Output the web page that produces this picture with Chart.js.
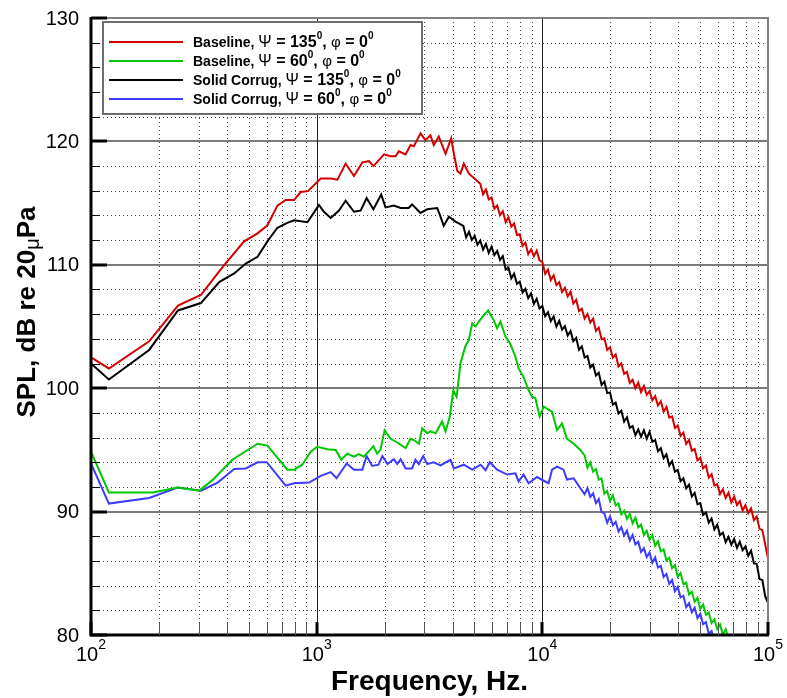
<!DOCTYPE html>
<html>
<head>
<meta charset="utf-8">
<script src="https://cdn.jsdelivr.net/npm/chart.js@4.4.0/dist/chart.umd.min.js"></script>
<style>
    html, body { margin: 0; padding: 0; background: #fff; }
    canvas { display: block; }
</style>
</head>
<body>
<canvas id="spl-chart" width="787" height="698"></canvas>
<script>
// Legend text
const seriesNames = ['Baseline', 'Baseline', 'Solid Corrug', 'Solid Corrug'];
const psiAngles = [135, 60, 135, 60];
const phiAngles = [0, 0, 0, 0];
const seriesColors = ['#d40000', '#00c800', '#000000', '#3c3cff'];

// Axis ticks
const yTicks = [80, 90, 100, 110, 120, 130];
const xTickExponents = [2, 3, 4, 5];

// Narrow-band frequency grid used for the noisy high frequency part (Hz)
const hfFreq = [4467, 4597, 4732, 4870, 5012, 5158, 5309, 5464, 5623, 5788, 5957, 6131, 6310, 6494, 6683, 6879, 7079, 7286, 7499, 7718,
    7943, 8175, 8414, 8660, 8913, 9173, 9441, 9716, 10000, 10292, 10593, 10902, 11220, 11548, 11885, 12232, 12589, 12957, 13335, 13725,
    14125, 14537, 14962, 15399, 15849, 16312, 16788, 17278, 17783, 18302, 18836, 19387, 19953, 20535, 21135, 21752, 22387, 23041, 23714, 24406,
    25119, 25852, 26607, 27384, 28184, 29007, 29854, 30726, 31623, 32546, 33497, 34473, 35481, 36517, 37584, 38681, 39811, 40973, 42170, 43401,
    44668, 45973, 47315, 48697, 50119, 51582, 53088, 54639, 56234, 57876, 59566, 61306, 63096, 64938, 66834, 68786, 70795, 72862, 74989, 77179,
    79433, 81752, 84140, 86596, 89125, 91728, 94406, 97163, 100000];

// Baseline, psi = 135
const redFreq = [100, 120, 181, 243, 307, 364, 390, 477, 547, 605, 670, 729, 794, 850, 915, 1042, 1154, 1236, 1344, 1463,
    1594, 1706, 1784, 1988, 2125, 2238, 2313, 2477, 2606, 2695, 2884, 3034, 3192, 3303, 3477, 3725, 3945, 4055, 4200, 4337,
    4488, 4722];
const redSpl = [102.5, 101.6, 103.8, 106.7, 107.55, 109.3, 110.0, 111.9, 112.55, 113.2, 114.8, 115.25, 115.25, 115.9, 115.97, 117.0, 117.0, 116.9, 118.2, 117.2,
    118.3, 118.4, 118.0, 118.95, 118.8, 118.8, 119.2, 118.95, 119.7, 119.6, 120.65, 120.1, 120.5, 119.7, 120.4, 119.0, 120.25, 119.0, 117.6, 117.4,
    118.2, 117.4];
const redHfSpl = [116.57, 115.71, 116.1, 115.3, 115.44, 114.55, 114.8, 114.02, 114.33, 113.45, 113.85, 113.1, 113.35, 112.42, 112.48, 111.53, 111.8, 110.86, 111.25, 110.7,
    111.15, 110.36, 110.23, 109.27, 109.61, 108.76, 109.15, 108.35, 108.59, 107.79, 108.14, 107.44, 107.82, 106.86, 107.16, 106.26, 106.44, 105.65, 106.01, 105.32,
    105.64, 104.65, 104.91, 103.97, 104.04, 103.1, 103.31, 102.47, 102.74, 101.76, 102.01, 101.16, 101.32, 100.43, 100.69, 99.99, 100.44, 99.68, 100.18, 99.47,
    99.77, 99.02, 99.36, 98.6, 98.95, 98.1, 98.49, 97.61, 97.72, 96.78, 96.98, 96.14, 96.4, 95.48, 95.81, 94.94, 95.07, 94.15, 94.37, 93.5,
    93.73, 92.75, 93.03, 92.11, 92.22, 91.43, 91.8, 91.11, 91.53, 90.74, 91.22, 90.53, 90.84, 90.1, 90.52, 89.88, 90.26, 89.3, 89.6, 88.6,
    88.5, 87.34, 86.2];

// Baseline, psi = 60
const greenFreq = [100, 120, 188, 242, 302, 345, 423, 547, 605, 741, 794, 863, 940, 1006, 1115, 1214, 1286, 1367, 1463, 1538,
    1618, 1784, 1853, 1918, 2000, 2125, 2276, 2477, 2606, 2695, 2836, 2935, 3090, 3192, 3365, 3597, 3725, 3890, 4030, 4170,
    4337, 4560, 4722, 4890, 5060, 5230, 5495, 5750, 6095, 6305, 6520, 6860, 7210, 7600, 7850, 8260, 8690, 9000, 9310, 9730,
    10140, 11040, 11620, 12220, 12860, 13770, 14730];
const greenSpl = [94.85, 91.55, 91.55, 91.95, 91.7, 92.55, 94.2, 95.5, 95.35, 93.4, 93.4, 93.8, 94.85, 95.25, 95.05, 95.0, 94.2, 94.7, 94.45, 94.65,
    94.45, 95.3, 94.7, 95.0, 96.6, 95.9, 95.6, 95.15, 95.9, 95.8, 95.5, 96.75, 96.35, 96.5, 96.35, 97.3, 96.5, 97.7, 99.85, 99.3,
    102.0, 103.4, 103.9, 105.25, 105.0, 105.4, 105.9, 106.3, 105.5, 104.85, 105.4, 104.2, 103.6, 102.55, 101.6, 100.9, 99.85, 99.3, 99.2, 97.7,
    98.5, 98.1, 96.6, 97.15, 95.9, 95.5, 95.0];
const greenHfSpl = [94.56, 93.55, 93.99, 93.23, 93.45, 92.59, 92.68, 91.44, 91.66, 90.86, 91.31, 90.5, 90.66, 89.78, 90.07, 89.4, 89.82, 89.05, 89.5, 88.72,
    88.94, 88.11, 88.44, 87.72, 88.1, 87.24, 87.6, 86.77, 86.93, 86.05, 86.26, 85.41, 85.66, 84.71, 85.02, 84.12, 84.23, 83.29, 83.5, 82.69,
    83.0, 82.11, 82.48, 81.64, 81.82, 80.97, 81.26, 80.5, 80.86, 80.04, 80.46, 79.68, 79.9, 79.05];

// Solid Corrug, psi = 135
const blackFreq = [100, 120, 181, 243, 307, 370, 431, 485, 547, 605, 670, 741, 794, 910, 957, 1024, 1077, 1154, 1256, 1344,
    1463, 1567, 1665, 1784, 1932, 2018, 2198, 2355, 2558, 2648, 2884, 3090, 3420, 3515, 3655, 3853, 4125];
const blackSpl = [102.0, 100.7, 103.1, 106.3, 106.9, 108.6, 109.3, 110.1, 110.65, 111.9, 113.0, 113.4, 113.6, 113.45, 114.05, 114.85, 114.3, 113.8, 114.4, 115.2,
    114.3, 114.4, 115.4, 114.5, 115.7, 114.65, 114.8, 114.6, 114.6, 114.9, 114.2, 114.5, 114.6, 114.05, 113.15, 113.9, 113.5];
const blackHfSpl = [113.15, 112.22, 112.68, 112.01, 112.35, 111.62, 111.96, 111.24, 111.69, 110.96, 111.47, 110.79, 111.12, 110.4, 110.71, 109.61, 109.77, 108.9, 109.28, 108.46,
    108.63, 107.75, 108.05, 107.31, 107.68, 106.84, 107.25, 106.46, 106.67, 105.83, 106.16, 105.44, 105.82, 105.0, 105.46, 104.74, 105.03, 104.26, 104.63, 103.81,
    104.08, 103.11, 103.39, 102.49, 102.61, 101.68, 101.9, 101.03, 101.25, 100.27, 100.54, 99.6, 99.66, 98.67, 98.83, 97.94, 98.18, 97.29, 97.64, 96.79,
    96.94, 96.19, 96.66, 96.07, 96.59, 95.91, 96.47, 95.66, 95.8, 94.89, 95.13, 94.33, 94.64, 93.74, 94.09, 93.24, 93.38, 92.46, 92.7, 91.89,
    92.18, 91.23, 91.52, 90.61, 90.69, 89.73, 89.92, 89.11, 89.44, 88.56, 88.94, 88.11, 88.29, 87.53, 87.95, 87.32, 87.78, 87.05, 87.56, 86.87,
    87.17, 86.43, 86.83, 85.81, 85.77, 84.53, 84.45, 83.15, 82.6];

// Solid Corrug, psi = 60
const blueFreq = [100, 120, 181, 242, 307, 364, 431, 485, 547, 601, 729, 794, 925, 1042, 1154, 1225, 1358, 1463, 1594, 1665,
    1762, 1880, 1955, 2060, 2198, 2276, 2355, 2477, 2648, 2740, 2836, 2966, 3090, 3300, 3540, 3918, 4055, 4488, 4890, 5325,
    5600, 5850, 6305, 6985, 7600, 7850, 8260, 8690, 9470, 10140, 10660, 11040, 11620, 12410, 12860, 13770, 14730];
const blueSpl = [93.9, 90.65, 91.1, 91.95, 91.7, 92.35, 93.45, 93.5, 94.0, 94.0, 92.1, 92.3, 92.35, 92.9, 93.2, 92.7, 93.9, 93.4, 93.4, 94.5,
    93.7, 93.8, 94.5, 93.85, 94.25, 93.85, 94.25, 93.5, 93.5, 94.2, 93.85, 94.5, 93.85, 94.0, 93.75, 94.2, 93.5, 93.8, 93.4, 93.8,
    93.35, 94.0, 93.4, 93.0, 93.1, 92.45, 93.0, 92.3, 92.8, 92.5, 92.3, 93.4, 93.65, 93.4, 92.6, 92.7, 91.9];
const blueHfSpl = [91.4, 91.91, 91.19, 91.48, 90.68, 91.02, 89.97, 89.85, 89.1, 89.6, 88.89, 89.17, 88.38, 88.75, 88.06, 88.46, 87.66, 88.11, 87.34, 87.56,
    86.72, 87.04, 86.31, 86.68, 85.85, 86.28, 85.47, 85.61, 84.71, 84.95, 84.15, 84.45, 83.55, 83.9, 83.04, 83.18, 82.26, 82.57, 81.84, 82.21,
    81.37, 81.73, 80.88, 81.04, 80.11, 80.32, 79.47, 79.4];

const FONT = '"Liberation Sans", Arial, sans-serif';

// join the low frequency readings with the narrow-band part
function buildSeries(freq, spl, hfStart, hfSpl) {
    const hf = hfFreq.filter(f => f >= hfStart).slice(0, hfSpl.length);
    const allFreq = freq.concat(hf);
    const allSpl = spl.concat(hfSpl);
    if (allFreq.length !== allSpl.length) console.warn('length mismatch', hfStart, allFreq.length, allSpl.length);
    return allFreq.map((f, i) => ({ x: f, y: allSpl[i] }));
}

function legendLabel(i) {
    return `${seriesNames[i]}, Ψ = ${psiAngles[i]}°, φ = ${phiAngles[i]}°`;
}

// draw text made of several pieces (bold text, symbol, superscript)
function drawPieces(ctx, pieces, x, y) {
    pieces.forEach(p => {
        ctx.font = p.font;
        ctx.fillText(p.text, x, y + (p.dy || 0));
        x += ctx.measureText(p.text).width;
    });
    return x;
}

function piecesWidth(ctx, pieces) {
    let w = 0;
    pieces.forEach(p => {
        ctx.font = p.font;
        w += ctx.measureText(p.text).width;
    });
    return w;
}

const tecplotAxes = {
    id: 'tecplotAxes',
    beforeDatasetsDraw(chart) {
        const { ctx, chartArea: a, scales: { x, y } } = chart;
        ctx.save();

        // minor dotted grid
        ctx.strokeStyle = '#444';
        ctx.lineWidth = 1;
        ctx.setLineDash([1, 3]);
        ctx.beginPath();
        for (let d = 100; d < 100000; d *= 10) {
            for (let m = 2; m <= 9; m++) {
                const px = Math.round(x.getPixelForValue(d * m)) + 0.5;
                ctx.moveTo(px, a.top);
                ctx.lineTo(px, a.bottom);
            }
        }
        for (let v = 82; v < 130; v += 2) {
            if (v % 10 === 0) continue;
            const py = Math.round(y.getPixelForValue(v)) + 0.5;
            ctx.moveTo(a.left, py);
            ctx.lineTo(a.right, py);
        }
        ctx.stroke();
        ctx.setLineDash([]);

        // major grid
        ctx.strokeStyle = '#7a7a7a';
        ctx.lineWidth = 2;
        ctx.beginPath();
        yTicks.slice(1, -1).forEach(v => {
            const py = Math.round(y.getPixelForValue(v));
            ctx.moveTo(a.left, py);
            ctx.lineTo(a.right, py);
        });
        ctx.stroke();

        ctx.strokeStyle = '#222';
        ctx.lineWidth = 1;
        ctx.beginPath();
        [1000, 10000].forEach(f => {
            const px = Math.round(x.getPixelForValue(f)) + 0.5;
            ctx.moveTo(px, a.top);
            ctx.lineTo(px, a.bottom);
        });
        ctx.stroke();
        ctx.restore();
    },
    afterDatasetsDraw(chart) {
        const { ctx, chartArea: a, scales: { x, y } } = chart;
        ctx.save();

        // frame
        ctx.strokeStyle = '#808080';
        ctx.lineWidth = 2;
        ctx.beginPath();
        ctx.moveTo(a.left, a.top);
        ctx.lineTo(a.right, a.top);
        ctx.lineTo(a.right, a.bottom);
        ctx.stroke();
        ctx.strokeStyle = '#000';
        ctx.lineWidth = 3;
        ctx.beginPath();
        ctx.moveTo(a.left, a.top - 1);
        ctx.lineTo(a.left, a.bottom);
        ctx.lineTo(a.right + 1, a.bottom);
        ctx.stroke();

        // inside ticks, left axis
        ctx.beginPath();
        ctx.lineWidth = 1;
        for (let v = 82; v < 130; v += 2) {
            if (v % 10 === 0) continue;
            const py = Math.round(y.getPixelForValue(v)) + 0.5;
            ctx.moveTo(a.left, py);
            ctx.lineTo(a.left + 9, py);
        }
        ctx.stroke();
        ctx.lineWidth = 3;
        ctx.beginPath();
        yTicks.forEach(v => {
            const py = Math.round(y.getPixelForValue(v));
            ctx.moveTo(a.left, py);
            ctx.lineTo(a.left + 16, py);
        });
        ctx.stroke();

        // inside ticks, bottom axis
        ctx.strokeStyle = '#555';
        ctx.lineWidth = 1;
        ctx.beginPath();
        for (let d = 100; d < 100000; d *= 10) {
            for (let m = 2; m <= 9; m++) {
                const px = Math.round(x.getPixelForValue(d * m)) + 0.5;
                ctx.moveTo(px, a.bottom);
                ctx.lineTo(px, a.bottom - 12);
            }
        }
        ctx.stroke();
        ctx.strokeStyle = '#000';
        ctx.lineWidth = 3;
        ctx.beginPath();
        xTickExponents.forEach(e => {
            const px = Math.round(x.getPixelForValue(Math.pow(10, e)));
            ctx.moveTo(px, a.bottom);
            ctx.lineTo(px, a.bottom - 13);
        });
        ctx.stroke();

        // tick labels
        ctx.fillStyle = '#000';
        ctx.textAlign = 'right';
        ctx.textBaseline = 'middle';
        ctx.font = `20px ${FONT}`;
        yTicks.forEach(v => {
            ctx.fillText(String(v), a.left - 12, y.getPixelForValue(v) + 1);
        });

        ctx.textAlign = 'left';
        ctx.textBaseline = 'alphabetic';
        xTickExponents.forEach(e => {
            const px = x.getPixelForValue(Math.pow(10, e));
            const pieces = [
                { text: '10', font: `20px ${FONT}` },
                { text: String(e), font: `14px ${FONT}`, dy: -12 }
            ];
            const w = piecesWidth(ctx, pieces);
            drawPieces(ctx, pieces, px - w / 2, a.bottom + 26);
        });

        // axis titles
        ctx.font = `bold 28px ${FONT}`;
        ctx.textAlign = 'center';
        ctx.fillText('Frequency, Hz.', (a.left + a.right) / 2, 690);

        ctx.save();
        ctx.translate(35, 312);
        ctx.rotate(-Math.PI / 2);
        const yTitle = [
            { text: 'SPL, dB re 20', font: `bold 26px ${FONT}` },
            { text: 'μ', font: `20px ${FONT}`, dy: 4 },
            { text: 'Pa', font: `bold 26px ${FONT}` }
        ];
        ctx.textAlign = 'left';
        drawPieces(ctx, yTitle, -piecesWidth(ctx, yTitle) / 2, 0);
        ctx.restore();

        // legend
        const lx = a.left + 12, ly = a.top + 4;
        ctx.fillStyle = '#fff';
        ctx.fillRect(lx, ly, 319, 92);
        ctx.strokeStyle = '#6e6e6e';
        ctx.lineWidth = 2;
        ctx.strokeRect(lx, ly, 319, 92);
        ctx.textAlign = 'left';
        ctx.textBaseline = 'middle';
        chart.data.datasets.forEach((ds, i) => {
            const ry = ly + 20 + i * 19;
            ctx.strokeStyle = ds.borderColor;
            ctx.lineWidth = 2;
            ctx.beginPath();
            ctx.moveTo(lx + 6, ry);
            ctx.lineTo(lx + 80, ry);
            ctx.stroke();
            ctx.fillStyle = '#000';
            drawPieces(ctx, [
                { text: seriesNames[i] + ', ', font: `bold 14px ${FONT}` },
                { text: 'Ψ', font: `16px ${FONT}` },
                { text: ' = ' + psiAngles[i], font: `bold 16px ${FONT}` },
                { text: '0', font: `bold 10px ${FONT}`, dy: -7 },
                { text: ', ', font: `bold 16px ${FONT}` },
                { text: 'φ', font: `15px ${FONT}` },
                { text: ' = ' + phiAngles[i], font: `bold 16px ${FONT}` },
                { text: '0', font: `bold 10px ${FONT}`, dy: -7 }
            ], lx + 90, ry + 1);
        });

        ctx.restore();
    }
};

const series = [
    buildSeries(redFreq, redSpl, 5309, redHfSpl),
    buildSeries(greenFreq, greenSpl, 15399, greenHfSpl),
    buildSeries(blackFreq, blackSpl, 4467, blackHfSpl),
    buildSeries(blueFreq, blueSpl, 15399, blueHfSpl)
];

const splChart = new Chart(document.getElementById('spl-chart'), {
    type: 'line',
    data: {
        datasets: series.map((points, i) => ({
            label: legendLabel(i),
            data: points,
            borderColor: seriesColors[i],
            backgroundColor: seriesColors[i],
            borderWidth: 2,
            pointRadius: 0,
            tension: 0,
            fill: false
        }))
    },
    options: {
        responsive: false,
        animation: false,
        layout: { padding: { top: 18, right: 19, left: 0, bottom: 0 } },
        plugins: {
            legend: { display: false },
            tooltip: { enabled: false }
        },
        scales: {
            x: {
                type: 'logarithmic',
                min: 100,
                max: 100000,
                grid: { display: false },
                border: { display: false },
                ticks: { display: false },
                afterFit: s => { s.height = 63; }
            },
            y: {
                type: 'linear',
                min: 80,
                max: 130,
                grid: { display: false },
                border: { display: false },
                ticks: { display: false },
                afterFit: s => { s.width = 91; }
            }
        }
    },
    plugins: [tecplotAxes]
});
</script>
</body>
</html>
